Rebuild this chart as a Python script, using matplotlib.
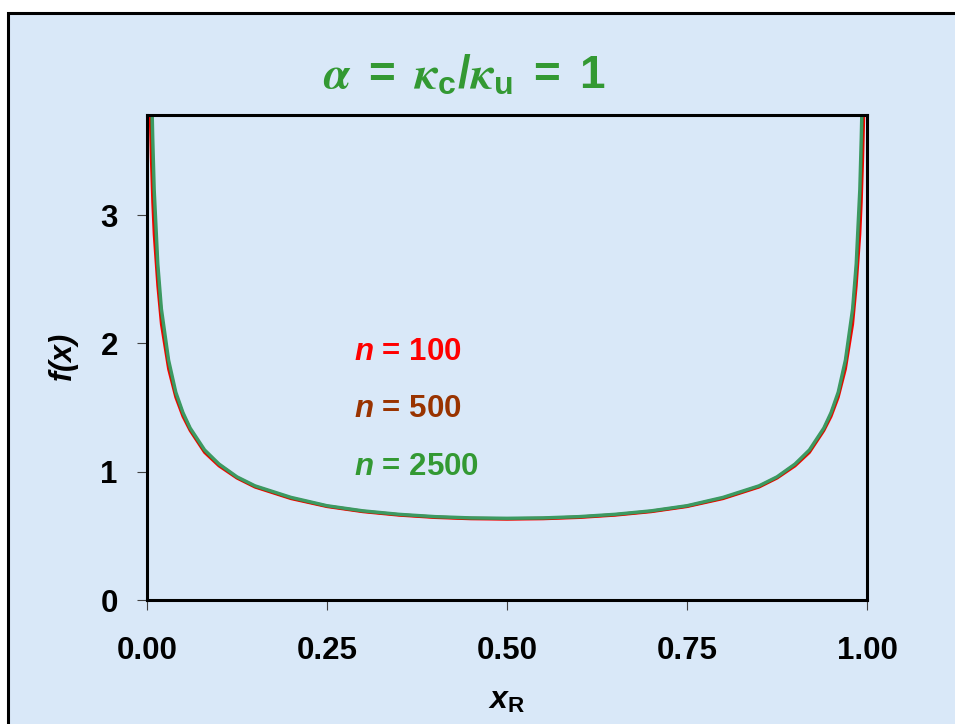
import matplotlib
matplotlib.use("Agg")
import matplotlib.pyplot as plt
from matplotlib.patches import Rectangle

# density of x_R for three sample sizes
x_R = [0.002, 0.004, 0.006, 0.008, 0.01, 0.015, 0.02, 0.03, 0.04, 0.05,
       0.06, 0.08, 0.10, 0.125, 0.15, 0.20, 0.25, 0.30, 0.35, 0.40,
       0.45, 0.50, 0.55, 0.60, 0.65, 0.70, 0.75, 0.80, 0.85, 0.875,
       0.90, 0.92, 0.94, 0.95, 0.96, 0.97, 0.98, 0.985, 0.99, 0.992,
       0.994, 0.996, 0.998]
f_100 = [4.6, 3.9, 3.45, 3.1, 2.85, 2.45, 2.15, 1.80, 1.58, 1.43,
         1.32, 1.15, 1.045, 0.95, 0.88, 0.79, 0.728, 0.688, 0.661, 0.643,
         0.633, 0.630, 0.633, 0.643, 0.661, 0.688, 0.728, 0.79, 0.88, 0.95,
         1.045, 1.15, 1.32, 1.43, 1.58, 1.80, 2.15, 2.45, 2.85, 3.1,
         3.45, 3.9, 4.6]
f_500 = [5.6, 4.5, 3.8, 3.35, 3.05, 2.55, 2.22, 1.84, 1.60, 1.45,
         1.33, 1.16, 1.055, 0.955, 0.885, 0.795, 0.732, 0.692, 0.665, 0.647,
         0.637, 0.634, 0.637, 0.647, 0.665, 0.692, 0.732, 0.795, 0.885, 0.955,
         1.055, 1.16, 1.33, 1.45, 1.60, 1.84, 2.22, 2.55, 3.05, 3.35,
         3.8, 4.5, 5.6]
f_2500 = [7.1, 5.0, 4.1, 3.6, 3.2, 2.62, 2.27, 1.87, 1.62, 1.46,
          1.34, 1.17, 1.06, 0.96, 0.89, 0.80, 0.735, 0.695, 0.668, 0.650,
          0.640, 0.637, 0.640, 0.650, 0.668, 0.695, 0.735, 0.80, 0.89, 0.96,
          1.06, 1.17, 1.34, 1.46, 1.62, 1.87, 2.27, 2.62, 3.2, 3.6,
          4.1, 5.0, 7.1]

x_ticks = [0.0, 0.25, 0.5, 0.75, 1.0]
x_ticklabels = ["0.00", "0.25", "0.50", "0.75", "1.00"]
y_ticks = [0, 1, 2, 3]

plt.rcParams["font.family"] = "Liberation Sans"
plt.rcParams["font.weight"] = "bold"
plt.rcParams["mathtext.fontset"] = "custom"
plt.rcParams["mathtext.rm"] = "Liberation Sans:bold"
plt.rcParams["mathtext.bf"] = "Liberation Sans:bold"
plt.rcParams["mathtext.it"] = "STIXGeneral:italic"
plt.rcParams["mathtext.bfit"] = "Liberation Sans:bold:italic"

bg = "#d9e8f8"
red = "#ff0000"
brown = "#993300"
green_txt = "#339933"
green_line = "#3c9a62"

fig = plt.figure(figsize=(9.55, 7.24), dpi=100)
fig.patch.set_facecolor("white")

# slide panel with black top/left border
fig.patches.append(Rectangle((8 / 955, -0.05), 1.1, 1 - 13 / 724 + 0.05,
                             transform=fig.transFigure, facecolor=bg,
                             edgecolor="black", linewidth=2.2, zorder=-10))

ax = fig.add_axes([147 / 955, 1 - 600 / 724, 720 / 955, 485 / 724])
ax.set_facecolor("none")

ax.plot(x_R, f_100, color=red, lw=2.2)
ax.plot(x_R, f_500, color=brown, lw=2.2)
ax.plot(x_R, f_2500, color=green_line, lw=2.4)

ax.set_xlim(0, 1)
ax.set_ylim(0, 3.78)
ax.set_xticks(x_ticks)
ax.set_xticklabels(x_ticklabels)
ax.set_yticks(y_ticks)
ax.tick_params(direction="out", length=7, width=0.8, color="#404040",
               labelsize=22.5)
ax.tick_params(axis="x", pad=19)
ax.tick_params(axis="y", pad=14)
for lab in ax.get_xticklabels() + ax.get_yticklabels():
    lab.set_fontweight("bold")
for s in ax.spines.values():
    s.set_linewidth(2.2)
    s.set_color("black")

ax.set_xlabel(r"$\mathbfit{x}_\mathbf{R}$", fontsize=23, labelpad=14)
ax.set_ylabel(r"$\mathbfit{f(x)}$", fontsize=22, labelpad=14)

ax.text(0.287, 0.511, r"$\mathbfit{n}$ = 100", transform=ax.transAxes,
        color=red, fontsize=22.5, fontweight="bold", va="center")
ax.text(0.287, 0.393, r"$\mathbfit{n}$ = 500", transform=ax.transAxes,
        color=brown, fontsize=22.5, fontweight="bold", va="center")
ax.text(0.287, 0.275, r"$\mathbfit{n}$ = 2500", transform=ax.transAxes,
        color=green_txt, fontsize=22.5, fontweight="bold", va="center")

fig.text(0.486, 1 - 77 / 724,
         r"$\alpha\ \mathrm{=}\ \kappa_\mathrm{c}\mathrm{/}\kappa_\mathrm{u}\ \mathrm{=\ 1}$",
         color=green_txt, fontsize=33, ha="center", va="center")

fig.savefig("out.png", dpi=100, facecolor=fig.get_facecolor())
